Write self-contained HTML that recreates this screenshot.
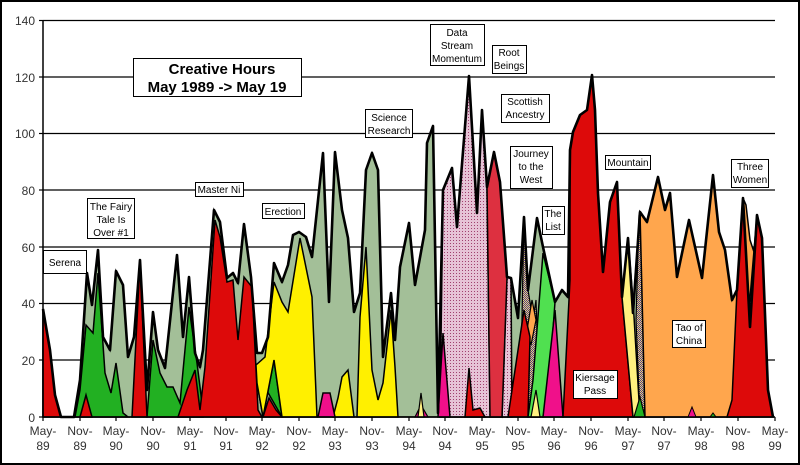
<!DOCTYPE html>
<html><head><meta charset="utf-8"><style>
html,body{margin:0;padding:0;background:#fff}
svg{display:block}
text{font-family:"Liberation Sans","DejaVu Sans",sans-serif}
</style></head><body>
<svg width="800" height="465" viewBox="0 0 800 465" xmlns="http://www.w3.org/2000/svg">
<defs>
<pattern id="dots" width="3" height="3" patternUnits="userSpaceOnUse"><rect width="3" height="3" fill="#e6c3d6"/><rect width="1" height="1" fill="#a0406e"/></pattern>
<pattern id="blu" width="2" height="2" patternUnits="userSpaceOnUse"><rect width="2" height="2" fill="#f0e060"/><rect width="1" height="1" fill="#5030a0"/><rect x="1" y="1" width="1" height="1" fill="#5030a0"/></pattern>
</defs>
<rect x="1" y="1" width="798" height="463" fill="#fff" stroke="#000" stroke-width="2"/>
<!-- gridlines -->
<g stroke="#000" stroke-width="1.2">
<line x1="43" y1="20.5" x2="775" y2="20.5"/><line x1="43" y1="77" x2="775" y2="77"/><line x1="43" y1="133.5" x2="775" y2="133.5"/><line x1="43" y1="190" x2="775" y2="190"/><line x1="43" y1="247" x2="775" y2="247"/><line x1="43" y1="303.5" x2="775" y2="303.5"/><line x1="43" y1="360" x2="775" y2="360"/>
</g>
<!-- sage envelope -->
<polygon fill="#a3bf98" stroke="#000" stroke-width="1.5" points="43,417 43,309 50,350 55,395 61,417 74,417 80,380 87,273 92,305 98,250 103,337 110,350 116,271 123,285 128,357 134,337 140,260 147,390 153,312 158,350 165,368 177,255 183,337 189,277 195,353 200,367 203,350 214,210 220,222 227,278 233,273 238,283 244,224 251,277 257,353 262,353 268,337 274,263 282,282 288,265 293,235 299,232 306,237 312,257 323,153 329,302 335,152 342,210 348,238 354,312 360,293 366,170 372,153 378,170 383,357 391,293 395,340 400,267 409,223 415,285 425,230 427,143 433,126 438,413 443,190 452,168 457,227 469,76 477,213 482,110 487,187 494,152 500,182 507,277 511,278 518,318 524,217 528,290 537,218 543,247 555,302 562,290 568,297 570,150 573,132 580,115 587,110 592,75 595,110 598,193 603,272 610,202 617,182 622,297 628,238 633,313 640,212 647,222 658,177 665,210 670,193 677,277 689,220 702,278 713,175 719,232 725,250 732,300 737,290 743,198 750,327 757,215 762,238 768,390 773,417"/>
<!-- greens -->
<polygon fill="#22b022" stroke="#000" stroke-width="1.5" points="75,417 80,390 86,325 93,333 98,273 105,373 111,393 116,363 123,413 128,417"/>
<polygon fill="#22b022" stroke="#000" stroke-width="1.5" points="147,417 153,340 160,373 167,387 173,387 180,403 189,307 197,363 201,395 203,417"/>
<polygon fill="#22b022" stroke="#000" stroke-width="1.5" points="255,370 257,383 263,417 274,360 282,417"/>
<!-- reds -->
<polygon fill="#dd0a0a" stroke="#000" stroke-width="1.5" points="43,417 43,309 50,350 55,395 61,417"/>
<polygon fill="#dd0a0a" stroke="#000" stroke-width="1.5" points="80,417 86,395 92,417"/>
<polygon fill="#dd0a0a" stroke="#000" stroke-width="1.5" points="132,417 140,262 147,417"/>
<polygon fill="#dd0a0a" stroke="#000" stroke-width="1.5" points="178,417 187,390 195,370 200,410 205,367 215,220 220,237 227,282 233,280 238,340 244,277 252,287 258,410 262,417"/>
<polygon fill="#dd0a0a" stroke="#000" stroke-width="1.5" points="263,417 269,398 276,410 282,417"/>
<!-- yellows -->
<polygon fill="#fff000" stroke="#000" stroke-width="1.5" points="256,365 265,357 274,282 282,302 288,312 300,238 312,297 317,417 282,417 274,360 263,417 257,383"/>
<polygon fill="#fff000" stroke="#000" stroke-width="1.5" points="333,417 338,398 342,377 348,370 354,417"/>
<polygon fill="#fff000" stroke="#000" stroke-width="1.5" points="357,417 360,317 366,247 372,370 378,400 383,383 391,310 395,367 398,417"/>
<polygon fill="#f0108a" stroke="#000" stroke-width="1.5" points="318,417 323,393 330,393 335,417"/>
<!-- 94-95 -->
<polygon fill="#f0108a" stroke="#000" stroke-width="1.2" points="415,417 421,405 428,417"/>
<polygon fill="#fff080" stroke="#000" stroke-width="1.2" points="418,417 421,393 424,417"/>
<polygon fill="url(#dots)" stroke="#000" stroke-width="1.5" points="440,417 443,190 452,168 457,227 469,76 477,213 482,110 487,187 490,410 502,417 507,277 511,278 512,417"/>
<polygon fill="#f0108a" stroke="#000" stroke-width="1.5" points="438,417 443,333 450,417"/>
<polygon fill="#dd3040" stroke="#000" stroke-width="1.5" points="487,187 494,152 500,182 507,277 502,417 490,417"/>
<polygon fill="#dd0a0a" stroke="#000" stroke-width="1.5" points="465,417 469,368 473,410 480,408 485,417"/>
<!-- 95-96 -->
<polygon fill="url(#blu)" stroke="#000" stroke-width="1.2" points="520,417 524,217 528,290 533,320 536,300 540,417"/>
<polygon fill="#ffa64d" stroke="#000" stroke-width="1.2" points="527,330 532,300 536,320 531,345"/>
<polygon fill="#dd0a0a" stroke="#000" stroke-width="1.5" points="508,417 524,310 530,337 528,417"/>
<polygon fill="#50e050" stroke="#000" stroke-width="1.5" points="528,417 533,380 543,253 555,302 547,413 543,417"/>
<polygon fill="#fff080" stroke="#000" stroke-width="1.2" points="531,417 536,390 540,417"/>
<polygon fill="#f0108a" stroke="#000" stroke-width="1.5" points="543,417 555,310 563,417"/>
<!-- 96-97 -->
<polygon fill="#dd0a0a" stroke="#000" stroke-width="1.5" points="563,417 570,280 570,150 573,132 580,115 587,110 592,75 595,110 598,193 603,272 610,202 617,182 622,297 633,417"/>
<polygon fill="#fff080" stroke="#000" stroke-width="1.5" points="622,297 628,238 633,300 640,417 633,417"/>
<polygon fill="url(#blu)" stroke="#000" stroke-width="1.2" points="639,215 640,212 645,417 640,417 636,320"/>
<polygon fill="#22b022" stroke="#000" stroke-width="1.2" points="634,417 640,397 645,417"/>
<polygon fill="#ffa64d" stroke="#000" stroke-width="1.5" points="645,417 640,212 647,222 658,177 665,210 670,193 677,277 689,220 702,278 713,175 719,232 725,250 732,300 737,290 743,198 746,205 750,240 755,255 757,215 740,417"/>
<polygon fill="#dd0a0a" stroke="#000" stroke-width="1.5" points="727,417 732,400 737,290 743,198 750,327 757,215 762,238 768,390 773,417"/>
<polygon fill="#f0108a" stroke="#000" stroke-width="1" points="688,417 692,407 696,417"/>
<polygon fill="#22b022" stroke="#000" stroke-width="1" points="710,417 713,413 716,417"/>
<!-- envelope outline -->
<polyline fill="none" stroke="#000" stroke-width="2.6" stroke-linejoin="round" points="43,309 50,350 55,395 61,417 74,417 80,380 87,273 92,305 98,250 103,337 110,350 116,271 123,285 128,357 134,337 140,260 147,390 153,312 158,350 165,368 177,255 183,337 189,277 195,353 200,367 203,350 214,210 220,222 227,278 233,273 238,283 244,224 251,277 257,353 262,353 268,337 274,263 282,282 288,265 293,235 299,232 306,237 312,257 323,153 329,302 335,152 342,210 348,238 354,312 360,293 366,170 372,153 378,170 383,357 391,293 395,340 400,267 409,223 415,285 425,230 427,143 433,126 438,413 443,190 452,168 457,227 469,76 477,213 482,110 487,187 494,152 500,182 507,277 511,278 518,318 524,217 528,290 537,218 543,247 555,302 562,290 568,297 570,150 573,132 580,115 587,110 592,75 595,110 598,193 603,272 610,202 617,182 622,297 628,238 633,313 640,212 647,222 658,177 665,210 670,193 677,277 689,220 702,278 713,175 719,232 725,250 732,300 737,290 743,198 750,327 757,215 762,238 768,390 773,417"/>
<!-- axes -->
<g stroke="#000" stroke-width="1.5">
<line x1="43" y1="20" x2="43" y2="417"/><line x1="43" y1="417" x2="775" y2="417"/>
</g>
<g stroke="#000" stroke-width="1.2">
<line x1="39" y1="20.5" x2="43" y2="20.5"/><line x1="39" y1="77" x2="43" y2="77"/><line x1="39" y1="133.5" x2="43" y2="133.5"/><line x1="39" y1="190" x2="43" y2="190"/><line x1="39" y1="247" x2="43" y2="247"/><line x1="39" y1="303.5" x2="43" y2="303.5"/><line x1="39" y1="360" x2="43" y2="360"/><line x1="39" y1="417" x2="43" y2="417"/>
<path d="M43 417v4M80 417v4M116 417v4M153 417v4M190 417v4M226 417v4M262 417v4M299 417v4M335 417v4M372 417v4M409 417v4M445 417v4M482 417v4M518 417v4M554 417v4M591 417v4M628 417v4M664 417v4M701 417v4M738 417v4M775 417v4"/>
</g>
<g font-size="12" fill="#333" text-anchor="end">
<text x="35" y="25">140</text><text x="35" y="82">120</text><text x="35" y="138">100</text><text x="35" y="195">80</text><text x="35" y="252">60</text><text x="35" y="308">40</text><text x="35" y="365">20</text><text x="35" y="422">0</text>
</g>
<g font-size="12" fill="#333" text-anchor="middle">
<text x="43" y="435">May-</text><text x="43" y="450">89</text>
<text x="80" y="435">Nov-</text><text x="80" y="450">89</text>
<text x="116" y="435">May-</text><text x="116" y="450">90</text>
<text x="153" y="435">Nov-</text><text x="153" y="450">90</text>
<text x="190" y="435">May-</text><text x="190" y="450">91</text>
<text x="226" y="435">Nov-</text><text x="226" y="450">91</text>
<text x="262" y="435">May-</text><text x="262" y="450">92</text>
<text x="299" y="435">Nov-</text><text x="299" y="450">92</text>
<text x="335" y="435">May-</text><text x="335" y="450">93</text>
<text x="372" y="435">Nov-</text><text x="372" y="450">93</text>
<text x="409" y="435">May-</text><text x="409" y="450">94</text>
<text x="445" y="435">Nov-</text><text x="445" y="450">94</text>
<text x="482" y="435">May-</text><text x="482" y="450">95</text>
<text x="518" y="435">Nov-</text><text x="518" y="450">95</text>
<text x="554" y="435">May-</text><text x="554" y="450">96</text>
<text x="591" y="435">Nov-</text><text x="591" y="450">96</text>
<text x="628" y="435">May-</text><text x="628" y="450">97</text>
<text x="664" y="435">Nov-</text><text x="664" y="450">97</text>
<text x="701" y="435">May-</text><text x="701" y="450">98</text>
<text x="738" y="435">Nov-</text><text x="738" y="450">98</text>
<text x="775" y="435">May-</text><text x="775" y="450">99</text>
</g>
<!-- labels -->
<g fill="#fff" stroke="#000" stroke-width="1">
<rect x="133.5" y="58.5" width="168" height="38"/>
<rect x="43.5" y="250.5" width="43" height="23"/>
<rect x="87.5" y="198.5" width="47" height="40"/>
<rect x="195.5" y="182.5" width="48" height="14"/>
<rect x="262.5" y="203.5" width="42" height="15"/>
<rect x="365.5" y="109.5" width="47" height="28"/>
<rect x="430.5" y="24.5" width="54" height="41"/>
<rect x="492.5" y="45.5" width="34" height="28"/>
<rect x="501.5" y="94.5" width="48" height="28"/>
<rect x="510.5" y="146.5" width="42" height="42"/>
<rect x="542.5" y="206.5" width="22" height="28"/>
<rect x="605.5" y="155.5" width="45" height="14"/>
<rect x="731.5" y="159.5" width="37" height="28"/>
<rect x="672.5" y="320.5" width="33" height="27"/>
<rect x="573.5" y="370.5" width="44" height="28"/>
</g>
<g font-size="15" font-weight="bold" fill="#000" text-anchor="middle">
<text x="222" y="74">Creative Hours</text><text x="217" y="92">May 1989 -&gt; May 19</text>
</g>
<g font-size="10" fill="#000" text-anchor="middle">
<text x="65" y="266">Serena</text>
<text x="111" y="210">The Fairy</text><text x="111" y="223">Tale Is</text><text x="111" y="236">Over #1</text>
<text x="219" y="193">Master Ni</text>
<text x="283" y="215">Erection</text>
<text x="389" y="121">Science</text><text x="389" y="134">Research</text>
<text x="457" y="36">Data</text><text x="457" y="49">Stream</text><text x="457" y="62">Momentum</text>
<text x="509" y="56">Root</text><text x="509" y="69">Beings</text>
<text x="525" y="105">Scottish</text><text x="525" y="118">Ancestry</text>
<text x="531" y="157">Journey</text><text x="531" y="170">to the</text><text x="531" y="183">West</text>
<text x="553" y="217">The</text><text x="553" y="230">List</text>
<text x="628" y="166">Mountain</text>
<text x="750" y="170">Three</text><text x="750" y="183">Women</text>
<text x="689" y="331">Tao of</text><text x="689" y="344">China</text>
<text x="595" y="381">Kiersage</text><text x="595" y="394">Pass</text>
</g>
</svg>
</body></html>
